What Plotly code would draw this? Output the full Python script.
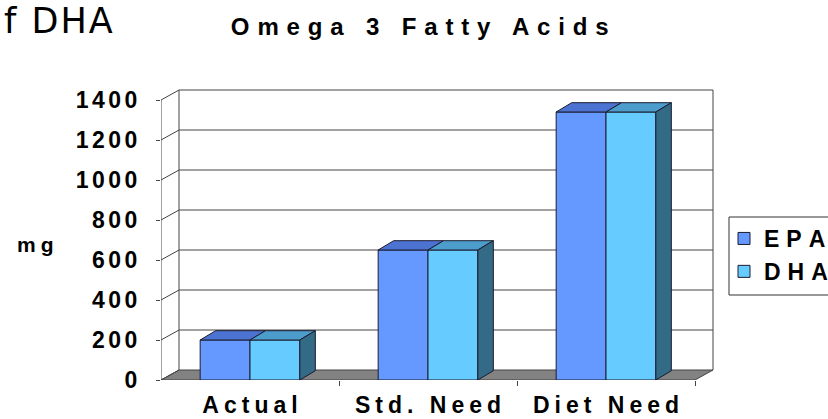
import plotly.graph_objects as go

# ---- data ----
categories = ["Actual", "Std. Need", "Diet Need"]
epa_values = [200, 650, 1340]
dha_values = [200, 650, 1340]
series_names = ["EPA", "DHA"]
y_ticks = [0, 200, 400, 600, 800, 1000, 1200, 1400]

# ---- styling ----
FONT = "Liberation Sans, Arial, sans-serif"
EPA_FRONT, EPA_TOP = "#6699FF", "#4C72D2"
DHA_FRONT, DHA_TOP, DHA_SIDE = "#66CCFF", "#4C9CCC", "#336A86"
EDGE = "#1c1c30"
GRID = "#444444"

PX_X = 178.0   # pixels per category unit
PX_Y = 0.2     # pixels per value unit
WALL_DX, WALL_DY = 18 / PX_X, 10 / PX_Y
BAR_DX, BAR_DY = 15.5 / PX_X, 9.3 / PX_Y
BAR_W = 0.28

def spaced(t, s):
    # letter spacing between characters only (no trailing space after the last one)
    return f"<span style='letter-spacing:{s}px'>{t[:-1]}</span>{t[-1]}"

n = len(categories)
xs = list(range(n))
x_lo, x_hi = -0.5, n - 0.5

fig = go.Figure()

fig.add_trace(go.Bar(x=xs, y=epa_values, name=spaced(series_names[0], 7),
                     marker=dict(color=EPA_FRONT, line=dict(color=EDGE, width=1)),
                     hoverinfo="skip"))
fig.add_trace(go.Bar(x=xs, y=dha_values, name=spaced(series_names[1], 7),
                     marker=dict(color=DHA_FRONT, line=dict(color=EDGE, width=1)),
                     hoverinfo="skip"))

# top and side faces
def faces():
    epa_top_x, epa_top_y, dha_top_x, dha_top_y, side_x, side_y = [], [], [], [], [], []
    for i in xs:
        e, d = epa_values[i], dha_values[i]
        a0, a1 = i - BAR_W, i
        b0, b1 = i, i + BAR_W
        epa_top_x += [a0, a1, a1 + BAR_DX, a0 + BAR_DX, a0, None]
        epa_top_y += [e, e, e + BAR_DY, e + BAR_DY, e, None]
        dha_top_x += [b0, b1, b1 + BAR_DX, b0 + BAR_DX, b0, None]
        dha_top_y += [d, d, d + BAR_DY, d + BAR_DY, d, None]
        side_x += [b1, b1 + BAR_DX, b1 + BAR_DX, b1, b1, None]
        side_y += [0, BAR_DY, d + BAR_DY, d, 0, None]
    return (epa_top_x, epa_top_y), (dha_top_x, dha_top_y), (side_x, side_y)

(etx, ety), (dtx, dty), (sx, sy) = faces()
for fx, fy, col in [(etx, ety, EPA_TOP), (dtx, dty, DHA_TOP), (sx, sy, DHA_SIDE)]:
    fig.add_trace(go.Scatter(x=fx, y=fy, mode="lines", fill="toself", fillcolor=col,
                             line=dict(color=EDGE, width=1), showlegend=False,
                             hoverinfo="skip"))

W, H = 828, 419
L, R, T, B = 161, 108, 80, 39
plot_w = W - L - R
plot_h = H - T - B
x_max = x_hi + (W - R - (L + PX_X * n)) / PX_X

def px_x(p):
    return (p - L) / plot_w

def px_y(p):
    return (H - B - p) / plot_h

# walls, floor and grid (drawn below traces)
shapes = []
shapes.append(dict(type="path", xref="x", yref="y", layer="below",
                   path=f"M{x_lo},0 L{x_hi},0 L{x_hi + WALL_DX},{WALL_DY} L{x_lo + WALL_DX},{WALL_DY} Z",
                   fillcolor="#828282", line=dict(color=GRID, width=1)))
top = y_ticks[-1]
for g in y_ticks[1:]:
    shapes.append(dict(type="line", xref="x", yref="y", layer="below",
                       x0=x_lo + WALL_DX, x1=x_hi + WALL_DX, y0=g + WALL_DY, y1=g + WALL_DY,
                       line=dict(color=GRID, width=1)))
for g in y_ticks:
    shapes.append(dict(type="line", xref="x", yref="y", layer="below",
                       x0=x_lo, x1=x_lo + WALL_DX, y0=g, y1=g + WALL_DY,
                       line=dict(color=GRID, width=1)))
shapes.append(dict(type="line", xref="x", yref="y", layer="below",
                   x0=x_lo, x1=x_lo, y0=0, y1=top, line=dict(color=GRID, width=1)))
shapes.append(dict(type="line", xref="x", yref="y", layer="below",
                   x0=x_lo + WALL_DX, x1=x_lo + WALL_DX, y0=WALL_DY, y1=top + WALL_DY,
                   line=dict(color=GRID, width=1)))
shapes.append(dict(type="line", xref="x", yref="y", layer="below",
                   x0=x_hi + WALL_DX, x1=x_hi + WALL_DX, y0=WALL_DY, y1=top + WALL_DY,
                   line=dict(color=GRID, width=1)))
# legend frame (runs past the right edge, as in the original slide)
shapes.append(dict(type="rect", xref="paper", yref="paper", layer="above",
                   x0=px_x(729), x1=px_x(845), y0=px_y(295), y1=px_y(217),
                   line=dict(color="#333333", width=1), fillcolor="rgba(0,0,0,0)"))

fig.update_layout(
    width=W, height=H, autosize=False,
    margin=dict(l=L, r=R, t=T, b=B, pad=0, autoexpand=False),
    paper_bgcolor="white", plot_bgcolor="white",
    barmode="group", bargap=1 - 2 * BAR_W, bargroupgap=0,
    shapes=shapes,
    font=dict(family=FONT, color="black"),
    title=dict(text=spaced("Omega 3 Fatty Acids", 7.85), x=0.507, y=1 - 27 / H,
               xanchor="center", yanchor="middle",
               font=dict(family=FONT, size=24, weight="bold", color="black")),
    xaxis=dict(range=[x_lo, x_max], tickvals=xs,
               ticktext=[spaced(c, 5) for c in categories],
               ticks="", showgrid=False, zeroline=False, showline=False,
               tickfont=dict(family=FONT, size=23, weight="bold", color="black"),
               ticklabelstandoff=9,
               minor=dict(tickmode="array", tickvals=[i + 0.5 for i in xs],
                          ticks="outside", ticklen=5, tickcolor=GRID, tickwidth=1,
                          showgrid=False)),
    yaxis=dict(range=[0, plot_h / PX_Y], tickvals=y_ticks,
               ticktext=[spaced(str(v), 3.5) for v in y_ticks],
               ticks="outside", ticklen=4, tickcolor=GRID, tickwidth=1,
               showgrid=False, zeroline=False, showline=False,
               tickfont=dict(family=FONT, size=23, weight="bold", color="black"),
               ticklabelstandoff=14),
    legend=dict(x=px_x(724), y=px_y(217),
                xanchor="left", yanchor="top",
                borderwidth=0, bgcolor="rgba(0,0,0,0)",
                font=dict(family=FONT, size=23, weight="bold", color="black"),
                traceorder="normal"),
    annotations=[
        dict(text=spaced("mg", 5), xref="paper", yref="paper",
             x=px_x(35), y=px_y(244),
             xanchor="center", yanchor="middle", showarrow=False,
             font=dict(family=FONT, size=21, weight="bold", color="black")),
        dict(text=spaced("f DHA", 2), xref="paper", yref="paper",
             x=px_x(3), y=px_y(0),
             xanchor="left", yanchor="top", showarrow=False, borderpad=0,
             font=dict(family="DejaVu Sans", size=35, color="black")),
    ],
)

fig.write_html("out.html")
